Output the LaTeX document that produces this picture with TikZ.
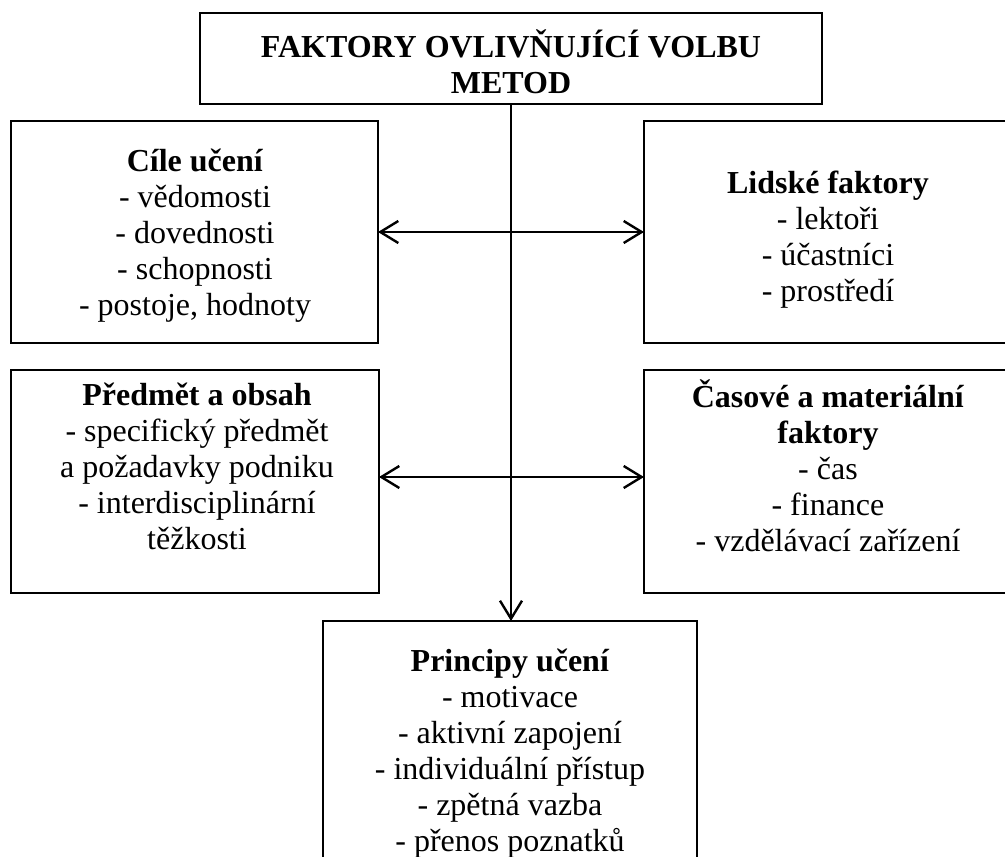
\documentclass[tikz,border=0pt]{standalone}
\usepackage{fontspec}
\setmainfont{Liberation Serif}
\usetikzlibrary{arrows.meta}
\begin{document}
\begin{tikzpicture}[x=1pt,y=-1pt,
  frame/.style={draw, rectangle, line width=2.6pt, inner sep=0pt, outer sep=0pt},
  boxtext/.style={align=center, inner sep=0pt, font=\fontsize{32}{36}\selectfont},
  barb/.tip={Straight Barb[length=18pt,width=22pt]},
  link/.style={line width=2.4pt, {barb}-{barb}},
  feed/.style={line width=2.4pt, -{barb}},
]
\useasboundingbox (0,0) rectangle (1005,857);
\clip (0,0) rectangle (1005,857);

% frames
\node[frame, minimum width=622pt, minimum height=91pt] (title) at (511,58.5) {};
\node[frame, minimum width=367pt, minimum height=222pt] (goals) at (194.5,232) {};
\node[frame, minimum width=368pt, minimum height=222pt] (people) at (828,232) {};
\node[frame, minimum width=368pt, minimum height=223pt] (subject) at (195,481.5) {};
\node[frame, minimum width=368pt, minimum height=223pt] (timemat) at (828,481.5) {};
\node[frame, minimum width=374pt, minimum height=284pt] (principles) at (510,763) {};

% texts
\node[boxtext] (titleText) at (511,62) {\textbf{FAKTORY OVLIVŇUJÍCÍ VOLBU}\\\textbf{METOD}};
\node[boxtext] (goalsText) at (195,235.5) {\textbf{Cíle učení}\\- vědomosti\\- dovednosti\\- schopnosti\\- postoje, hodnoty};
\node[boxtext] (peopleText) at (828,240) {\textbf{Lidské faktory}\\- lektoři\\- účastníci\\- prostředí};
\node[boxtext] (subjectText) at (197,466) {\textbf{Předmět a obsah}\\- specifický předmět\\a požadavky podniku\\- interdisciplinární\\těžkosti};
\node[boxtext] (timematText) at (828,466) {\textbf{Časové a materiální}\\\textbf{faktory}\\- čas\\- finance\\- vzdělávací zařízení};
\node[boxtext] (principlesText) at (510,754) {\textbf{Principy učení}\\- motivace\\- aktivní zapojení\\- individuální přístup\\- zpětná vazba\\- přenos poznatků};

% connectors
\coordinate (lowrow) at (0,477);
\draw[feed] (title.south) -- (title.south |- principles.north);
\draw[link] (goals.east) -- (people.west);
\draw[link] (subject.east |- lowrow) -- (timemat.west |- lowrow);
\end{tikzpicture}
\end{document}
